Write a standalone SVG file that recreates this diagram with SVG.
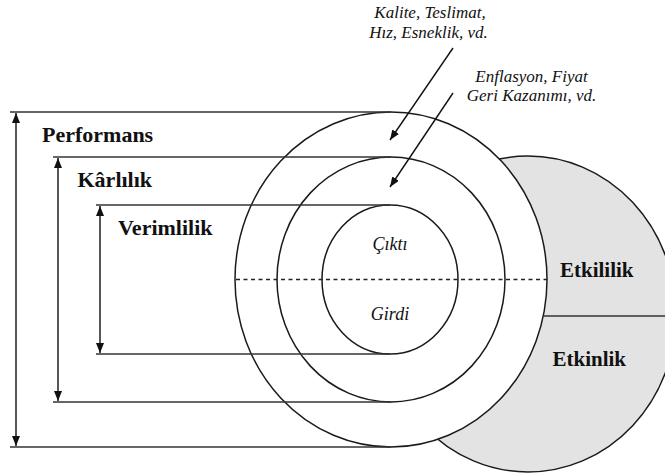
<svg xmlns="http://www.w3.org/2000/svg" width="665" height="474" viewBox="0 0 665 474">
  <style>
    .ring { fill: #ffffff; stroke: #1a1a1a; stroke-width: 1.5; }
    .band { fill: #e3e3e3; stroke: #1a1a1a; stroke-width: 1.5; }
    .rule { stroke: #333333; stroke-width: 1.6; fill: none; }
    .dim { stroke: #111111; stroke-width: 1.4; fill: none; marker-start: url(#tip); marker-end: url(#tip); }
    .pointer { stroke: #111111; stroke-width: 1.4; fill: none; marker-end: url(#tip); }
    .dots { stroke: #222222; stroke-width: 1.6; stroke-dasharray: 4 3.5; fill: none; }
    text { font-family: 'Liberation Serif', 'DejaVu Serif', serif; fill: #111111; }
    .lvl { font-weight: bold; font-size: 22px; }
    .side { font-weight: bold; font-size: 21px; }
    .note { font-style: italic; font-size: 17px; text-anchor: middle; }
    .core { font-style: italic; font-size: 18px; text-anchor: middle; }
  </style>
  <defs>
    <marker id="tip" viewBox="0 0 10 8" refX="10" refY="4" markerWidth="10" markerHeight="8" markerUnits="userSpaceOnUse" orient="auto-start-reverse">
      <path d="M0,0 L10,4 L0,8 Z" fill="#111111"/>
    </marker>
  </defs>
  <rect width="665" height="474" fill="#ffffff"/>

  <!-- grey half-disc behind the rings -->
  <g id="etkinlik-band">
    <ellipse class="band" cx="528" cy="314" rx="148" ry="158"/>
  </g>

  <!-- concentric rings -->
  <g id="performans-ring">
    <ellipse class="ring" cx="391" cy="279.5" rx="156" ry="167.5"/>
  </g>
  <g id="karlilik-ring">
    <ellipse class="ring" cx="391" cy="279.5" rx="114" ry="122.5"/>
  </g>
  <g id="verimlilik-ring">
    <ellipse class="ring" cx="390" cy="279.5" rx="68" ry="74.5"/>
  </g>

  <g id="connectors">
    <!-- horizontal extents of each level -->
    <line class="rule" x1="10" y1="112" x2="391" y2="112"/>
    <line class="rule" x1="10" y1="447" x2="391" y2="447"/>
    <line class="rule" x1="53" y1="157" x2="391" y2="157"/>
    <line class="rule" x1="53" y1="402" x2="391" y2="402"/>
    <line class="rule" x1="96" y1="205" x2="390" y2="205"/>
    <line class="rule" x1="96" y1="354" x2="390" y2="354"/>
    <!-- double-headed span arrows -->
    <line class="dim" x1="16" y1="113" x2="16" y2="446"/>
    <line class="dim" x1="58" y1="158" x2="58" y2="401"/>
    <line class="dim" x1="100" y1="206" x2="100" y2="353"/>
    <!-- output / input divider -->
    <line class="dots" x1="236" y1="279.5" x2="547" y2="279.5"/>
    <!-- effectiveness / efficiency divider -->
    <line class="rule" x1="543" y1="316" x2="665" y2="316"/>
    <!-- pointers from the notes -->
    <line class="pointer" x1="453" y1="48" x2="390" y2="140"/>
    <line class="pointer" x1="453" y1="93" x2="390" y2="187"/>
  </g>

  <g id="labels">
    <text class="lvl" x="42" y="141.5">Performans</text>
    <text class="lvl" x="77.5" y="186.5">Kârlılık</text>
    <text class="lvl" x="118" y="234.5">Verimlilik</text>
    <text class="side" x="560" y="277">Etkililik</text>
    <text class="side" x="552.5" y="365.5">Etkinlik</text>
    <text class="core" x="390" y="250">Çıktı</text>
    <text class="core" x="390" y="320">Girdi</text>
    <text class="note" x="430" y="18">Kalite, Teslimat,</text>
    <text class="note" x="428.5" y="37.5">Hız, Esneklik, vd.</text>
    <text class="note" x="531.5" y="81.5">Enflasyon, Fiyat</text>
    <text class="note" x="531.5" y="100.5">Geri Kazanımı, vd.</text>
  </g>
</svg>
